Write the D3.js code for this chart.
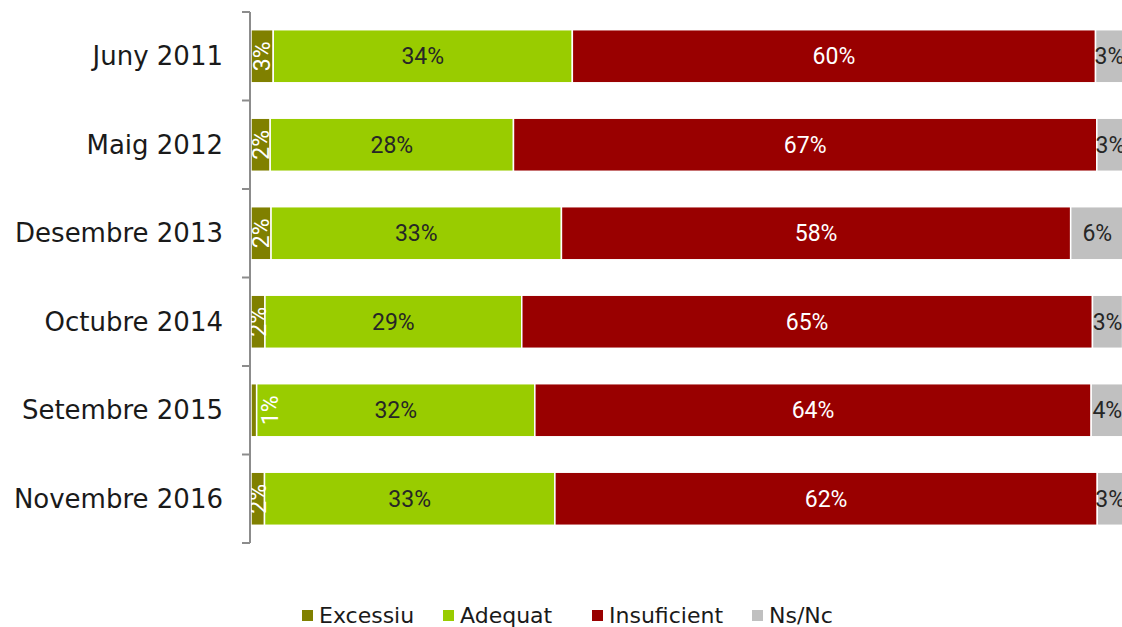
<!DOCTYPE html>
<html><head><meta charset="utf-8">
<script src="https://cdn.jsdelivr.net/npm/d3@7"></script>
<style>body{margin:0;background:#fff;}svg{display:block;}</style>
</head><body>
<svg id="c" width="1122" height="627"></svg>
<script>
const categories = ["Juny 2011","Maig 2012","Desembre 2013","Octubre 2014","Setembre 2015","Novembre 2016"];
const seriesNames = ["Excessiu","Adequat","Insuficient","Ns/Nc"];
const excessiu    = [2.55, 2.2, 2.3, 1.6, 0.65, 1.55];
const adequat     = [34.3, 27.9, 33.3, 29.45, 31.9, 33.3];
const insuficient = [60.0, 66.9, 58.4, 65.45, 63.8, 62.2];
const nsnc        = [3.2, 3.1, 6.1, 3.45, 3.7, 2.95];
const colors = ["#808000","#99cc00","#990000","#c0c0c0"];
const labelColors = ["#ffffff","#262626","#ffffff","#262626"];

const seriesValues = [excessiu, adequat, insuficient, nsnc];
const rows = categories.map((c,i)=>{
  const o = {cat:c};
  seriesNames.forEach((s,k)=>o[s]=seriesValues[k][i]);
  return o;
});
const stacked = d3.stack().keys(seriesNames)(rows);

const svg = d3.select("#c");
const x0 = 251, xW = 872;
const x = d3.scaleLinear().domain([0,100]).range([x0, x0+xW]);
const y = d3.scaleBand().domain(categories).range([12,543]).paddingInner(0.4).paddingOuter(0.2);
const yb = d3.scaleBand().domain(categories).range([12,543]);

const catFont = "'DejaVu Sans', sans-serif";
const valFont = "Roboto, sans-serif";

const g = svg.append("g");
stacked.forEach((layer,k)=>{
  g.selectAll(null).data(layer).join("rect")
    .attr("x", d=>x(d[0]))
    .attr("y", d=>y(d.data.cat))
    .attr("width", d=>x(d[1])-x(d[0]))
    .attr("height", y.bandwidth())
    .attr("fill", colors[k])
    .attr("stroke","#fff").attr("stroke-width",1.5);
});

// value labels
stacked.forEach((layer,k)=>{
  layer.forEach(d=>{
    const v = d[1]-d[0];
    const w = x(d[1])-x(d[0]);
    let cx = (x(d[0])+x(d[1]))/2;
    const cy = y(d.data.cat)+y.bandwidth()/2;
    const t = Math.round(v)+"%";
    if(k===0){
      if (w < 10) cx = x(d[1]) + 13;
      svg.append("text")
        .attr("transform",`translate(${cx},${cy}) rotate(-90)`)
        .attr("text-anchor","middle").attr("dy","0.35em")
        .attr("font-family",valFont).attr("font-size",23)
        .attr("fill",labelColors[k]).text(t);
    } else {
      svg.append("text")
        .attr("x",cx).attr("y",cy).attr("dy","0.35em")
        .attr("text-anchor","middle")
        .attr("font-family",valFont).attr("font-size",23)
        .attr("fill",labelColors[k]).text(t);
    }
  });
});

// axis
const axisG = svg.append("g");
axisG.append("line").attr("x1",250).attr("x2",250).attr("y1",12).attr("y2",543)
  .attr("stroke","#8c8c8c").attr("stroke-width",2);
const tickYs = categories.map(c=>yb(c)).concat([543]);
axisG.selectAll(null).data(tickYs).join("line")
  .attr("x1",242).attr("x2",250).attr("y1",d=>d).attr("y2",d=>d)
  .attr("stroke","#8c8c8c").attr("stroke-width",2);
axisG.selectAll(null).data(categories).join("text")
  .attr("x",223).attr("y",d=>yb(d)+yb.bandwidth()/2).attr("dy","0.35em")
  .attr("text-anchor","end").attr("font-family",catFont).attr("font-size",26)
  .attr("fill","#1a1a1a").text(d=>d);

// legend
const legendX = [302, 443, 592, 752];
const leg = svg.append("g");
seriesNames.forEach((s,k)=>{
  leg.append("rect").attr("x",legendX[k]).attr("y",610).attr("width",11).attr("height",11).attr("fill",colors[k]);
  leg.append("text").attr("x",legendX[k]+17).attr("y",615.5).attr("dy","0.35em")
    .attr("font-family",catFont).attr("font-size",22).attr("fill","#1a1a1a").text(s);
});
</script>
</body></html>
